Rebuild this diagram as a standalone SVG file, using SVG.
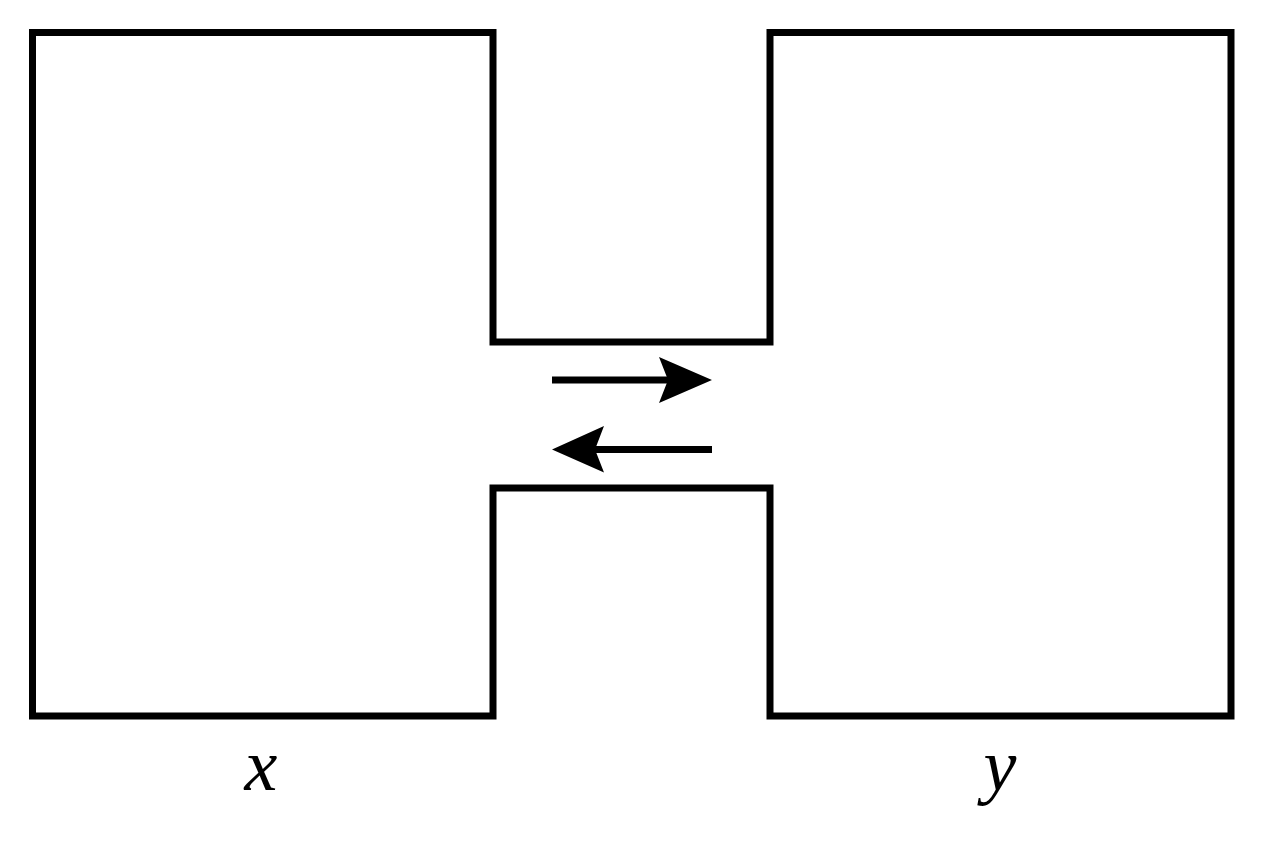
<svg xmlns="http://www.w3.org/2000/svg" width="1264" height="848" viewBox="0 0 1264 848">
<style>
.outline{fill:none;stroke:#000;stroke-width:7;stroke-linejoin:miter}
.shaft{stroke:#000;stroke-width:7;fill:none}
.head{fill:#000;stroke:none}
.lbl{font-family:'Liberation Serif','Times New Roman',serif;font-style:italic;font-size:74px;fill:#000;text-anchor:middle}
</style>
<rect width="1264" height="848" fill="#fff"/>
<g id="chamber">
<path class="outline" d="M32.5,32.5 H493 V342 H770 V32.5 H1231 V716 H770 V488 H493 V716 H32.5 Z"/>
</g>
<g id="connectors">
<line class="shaft" x1="552" y1="380" x2="670" y2="380"/>
<path class="head" d="M712,380 L659,357 L668,380 L659,403 Z"/>
<line class="shaft" x1="712" y1="449.5" x2="594" y2="449.5"/>
<path class="head" d="M552,449.5 L604,426 L595,449.5 L604,472.5 Z"/>
</g>
<g id="label-x"><text class="lbl" x="261" y="790">x</text></g>
<g id="label-y"><text class="lbl" x="1000" y="790">y</text></g>
</svg>
